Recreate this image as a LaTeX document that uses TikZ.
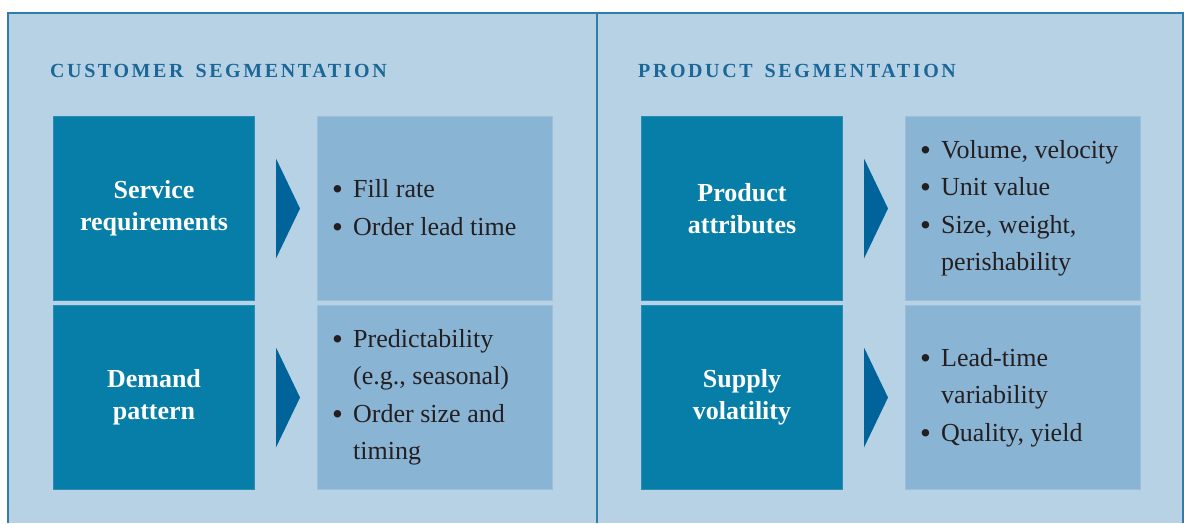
\documentclass[tikz,border=0pt]{standalone}
\usepackage{fontspec}
\setmainfont{Liberation Serif}

\definecolor{panelbg}{HTML}{B8D2E5}
\definecolor{framecol}{HTML}{2F7DAB}
\definecolor{darkfill}{HTML}{067EA8}
\definecolor{darkedge}{HTML}{2B8DB5}
\definecolor{lightfill}{HTML}{8AB4D4}
\definecolor{lightedge}{HTML}{9CC0DB}
\definecolor{arrowcol}{HTML}{00649A}
\definecolor{titlecol}{HTML}{1B6898}
\definecolor{bodytext}{HTML}{231F20}

% bullet item and its continuation line
\newcommand{\bdot}{\raisebox{-1.8pt}{\fontsize{31}{0}\selectfont\textbullet}}
\newcommand{\bitem}[1]{\makebox[20pt][l]{\hspace*{-1pt}\bdot}#1}
\newcommand{\bcont}[1]{\hspace*{20pt}#1}
% wide gap between heading words
\newcommand{\hgap}{\hspace{12pt}}

\tikzset{
  heading/.style={anchor=base west, inner sep=0pt, text=titlecol,
    font=\fontsize{20}{24}\selectfont\bfseries\addfontfeature{LetterSpace=13}},
  darkbox/.style={anchor=north west, fill=darkfill, draw=darkedge, line width=1pt,
    minimum width=201pt, minimum height=184pt, inner sep=0pt, align=center,
    text=white, font=\fontsize{26}{31.6}\selectfont\bfseries},
  lightbox/.style={anchor=north west, fill=lightfill, draw=lightedge, line width=1pt,
    minimum width=235pt, minimum height=184pt, inner sep=0pt},
  bullets/.style={anchor=west, inner sep=0pt, align=left, text=bodytext,
    font=\fontsize{26}{37.5}\selectfont},
  pointer/.style={fill=arrowcol},
}

\begin{document}
\begin{tikzpicture}[x=1pt, y=-1pt]
  \useasboundingbox (0,0) rectangle (1184,523);
  \fill[white] (0,0) rectangle (1184,523);

  % panel background and frame
  \fill[panelbg] (8,12.5) rectangle (1183,523);
  \draw[framecol, line width=2pt] (8,523) -- (8,12.5) -- (1183,12.5) -- (1183,523);
  \draw[framecol, line width=2pt] (597,12.5) -- (597,523);

  % section headings
  \node[heading] (hc) at (50,77) {CUSTOMER\hgap SEGMENTATION};
  \node[heading] (hp) at (638,77) {PRODUCT\hgap SEGMENTATION};

  % customer segmentation
  \node[darkbox] (s1) at (53,116) {Service\\requirements};
  \node[darkbox] (s2) at (53,305) {Demand\\pattern};
  \node[lightbox] (b1) at (317,116) {};
  \node[lightbox] (b2) at (317,305) {};

  % product segmentation
  \node[darkbox] (p1) at (641,116) {Product\\attributes};
  \node[darkbox] (p2) at (641,305) {Supply\\volatility};
  \node[lightbox] (c1) at (905,116) {};
  \node[lightbox] (c2) at (905,305) {};

  % bullet lists
  \node[bullets] (l1) at ([xshift=16pt]b1.west)
    {\bitem{Fill rate}\\\bitem{Order lead time}};
  \node[bullets] (l2) at ([xshift=16pt]b2.west)
    {\bitem{Predictability}\\\bcont{(e.g., seasonal)}\\\bitem{Order size and}\\\bcont{timing}};
  \node[bullets] (m1) at ([xshift=16pt]c1.west)
    {\bitem{Volume, velocity}\\\bitem{Unit value}\\\bitem{Size, weight,}\\\bcont{perishability}};
  \node[bullets] (m2) at ([xshift=16pt]c2.west)
    {\bitem{Lead-time}\\\bcont{variability}\\\bitem{Quality, yield}};

  % pointers between the boxes
  \foreach \src in {s1,s2,p1,p2} {
    \fill[pointer] ([xshift=21pt,yshift=50pt]\src.east)
      -- ([xshift=45pt]\src.east)
      -- ([xshift=21pt,yshift=-50pt]\src.east) -- cycle;
  }
\end{tikzpicture}
\end{document}
